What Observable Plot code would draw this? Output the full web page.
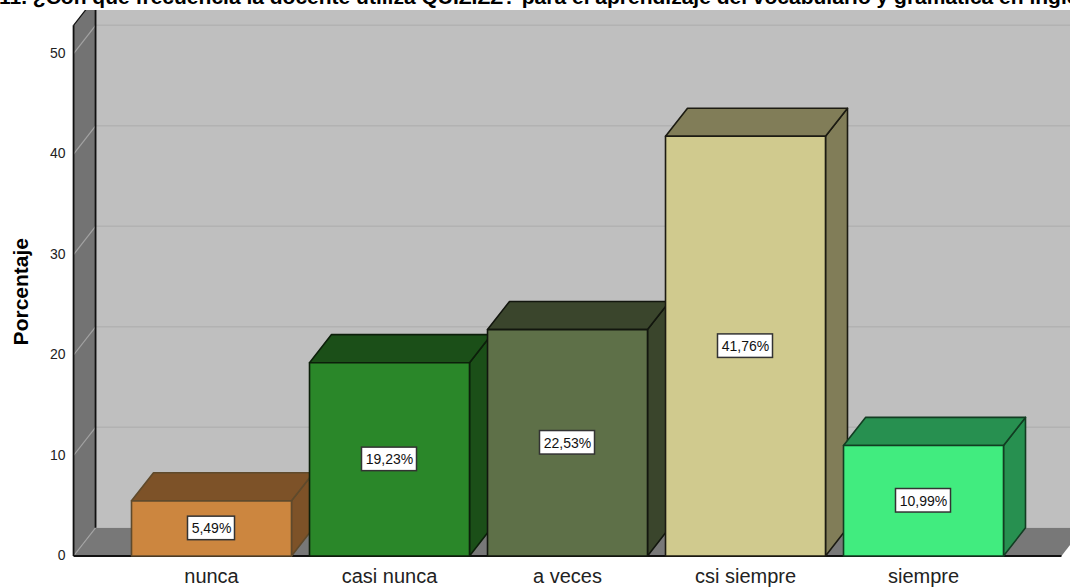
<!DOCTYPE html>
<html>
<head>
<meta charset="utf-8">
<script src="https://cdn.jsdelivr.net/npm/d3@7"></script>
<script src="https://cdn.jsdelivr.net/npm/@observablehq/plot@0.6"></script>
<style>
html,body{margin:0;padding:0;background:#fff;overflow:hidden}
#title{height:10px;width:1070px;overflow:hidden;position:relative;font:bold 21px "Liberation Sans",Arial,sans-serif;color:#000}
#title span{position:absolute;left:-1px;bottom:3px;white-space:nowrap;line-height:20px;}
svg{display:block}
</style>
</head>
<body>
<div id="title"><span>11. ¿Con qué frecuencia la docente utiliza QUIZIZZ? para el aprendizaje del vocabulario y gramática en inglés?</span></div>
<div id="chart"></div>
<script>
const categories = ["nunca", "casi nunca", "a veces", "csi siempre", "siempre"];
const percentages = [5.49, 19.23, 22.53, 41.76, 10.99];
const valueLabels = ["5,49%", "19,23%", "22,53%", "41,76%", "10,99%"];
const frontColors = ["#cc863f", "#2a8729", "#5e7048", "#d0ca8e", "#41ec7f"];
const shadeColors = ["#7d5228", "#1b4f18", "#3a452c", "#817d58", "#279050"];
const barStrokes = ["#5f4a2c", "#0c1f0a", "#12160e", "#1c1b12", "#123d22"];
const yTicks = [0, 10, 20, 30, 40, 50];

// geometry in data units: one x unit is one category slot, y is percent
const depthX = 0.1236, depthY = 2.8, halfBar = 0.4494;
const xLeft = -0.775, xRight = 4.775, yTop = 52.8;
const indices = categories.map((_, i) => i);

const faces = [];
const poly = (id, fill, stroke, pts) => pts.forEach(([x, y]) => faces.push({id, fill, stroke, x, y}));
indices.forEach(i => {
  const a = i - halfBar, b = i + halfBar, v = percentages[i], s = barStrokes[i];
  poly(`s${i}`, shadeColors[i], s, [[b,0],[b+depthX,depthY],[b+depthX,v+depthY],[b,v]]);
  poly(`t${i}`, shadeColors[i], s, [[a,v],[a+depthX,v+depthY],[b+depthX,v+depthY],[b,v]]);
  poly(`f${i}`, frontColors[i], s, [[a,0],[a,v],[b,v],[b,0]]);
});

const wall = [[xLeft,0],[xLeft,yTop],[xLeft+depthX,yTop+depthY],[xLeft+depthX,depthY]];
const floor = [[xLeft,0],[xLeft+depthX,depthY],[xRight+depthX,depthY],[xRight,0]];
const back = [[xLeft+depthX,depthY],[xLeft+depthX,yTop+depthY],[xRight+depthX,yTop+depthY],[xRight+depthX,depthY]];
const pts = () => ({x: d => d[0], y: d => d[1]});

const boxW = l => (l.length * 8 + 7) / 178;

const plot = Plot.plot({
  width: 1070, height: 577,
  marginLeft: 0, marginRight: 0, marginTop: 0, marginBottom: 31.5,
  x: {domain: [-1.1854, 4.8258], axis: null},
  y: {domain: [0, 54.28], axis: null},
  style: {background: "#fff", fontFamily: "'Liberation Sans', Arial, sans-serif"},
  marks: [
    Plot.line(back, {...pts(), curve: "linear-closed", fill: "#bfbfbf", stroke: "none"}),
    Plot.line(wall, {...pts(), curve: "linear-closed", fill: "#737373", stroke: "none"}),
    Plot.line(floor, {...pts(), curve: "linear-closed", fill: "#787878", stroke: "none"}),
    // gridlines on the back wall and across the left wall
    Plot.link(yTicks.filter(t => t > 0), {x1: xLeft + depthX, x2: xRight + depthX, y1: t => t + depthY, y2: t => t + depthY, stroke: "#b2b2b2", strokeWidth: 1.5}),
    Plot.link(yTicks, {x1: xLeft, x2: xLeft + depthX, y1: t => t, y2: t => t + depthY, stroke: "#a3a3a3", strokeWidth: 1.2}),
    // frame edges
    Plot.link([0], {x1: xLeft, x2: xLeft, y1: 0, y2: yTop, stroke: "#111", strokeWidth: 1.8}),
    Plot.link([0], {x1: xLeft + depthX, x2: xLeft + depthX, y1: depthY, y2: yTop + depthY, stroke: "#111", strokeWidth: 1.8}),
    Plot.link([0], {x1: xLeft, x2: xLeft + depthX, y1: yTop, y2: yTop + depthY, stroke: "#111", strokeWidth: 1.2}),
    Plot.link([0], {x1: xLeft, x2: xRight, y1: 0, y2: 0, stroke: "#111", strokeWidth: 1.8}),
    // bar faces
    Plot.line(faces, {x: "x", y: "y", z: "id", fill: "fill", stroke: "stroke", strokeWidth: 1.6, curve: "linear-closed", strokeLinejoin: "round"}),
    // value boxes
    Plot.rect(indices, {
      x1: i => i - boxW(valueLabels[i]) / 2, x2: i => i + boxW(valueLabels[i]) / 2,
      y1: i => percentages[i] / 2 - 1.17, y2: i => percentages[i] / 2 + 1.17,
      fill: "#fff", stroke: "#333", strokeWidth: 1.5
    }),
    Plot.text(indices, {x: i => i, y: i => percentages[i] / 2, dy: 0.5, text: i => valueLabels[i], fontSize: 14, fill: "#111"}),
    // axes
    Plot.axisY(yTicks, {anchor: "left", x: xLeft, tickSize: 0, tickPadding: 8, fontSize: 14, label: null, color: "#222"}),
    Plot.axisX(indices, {anchor: "bottom", tickSize: 0, tickPadding: 13, tickFormat: i => categories[i], fontSize: 20, label: null, color: "#222", letterSpacing: 0.3}),
    Plot.text(["Porcentaje"], {x: -1.067, y: 26.3, text: d => d, rotate: -90, fontSize: 21, fontWeight: "bold", fill: "#000"})
  ]
});
document.getElementById("chart").appendChild(plot);
</script>
</body>
</html>
